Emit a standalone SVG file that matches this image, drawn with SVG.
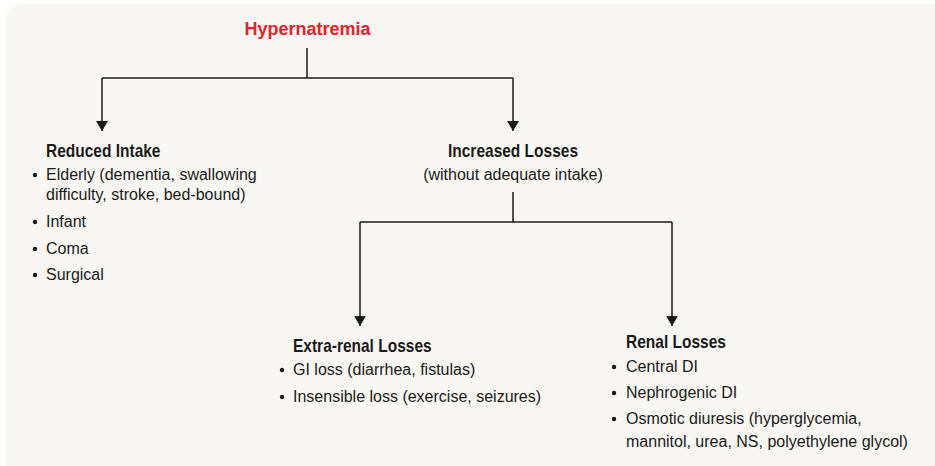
<svg xmlns="http://www.w3.org/2000/svg" width="935" height="466" viewBox="0 0 935 466">
  <style>
    text { font-family: "Liberation Sans", Arial, sans-serif; fill: #1a1a1a; font-size: 16px; }
    .title { font-weight: bold; font-size: 18px; fill: #e8212b; }
    .head { font-weight: bold; font-size: 17.5px; }
    .ctr { text-anchor: middle; }
    .wire { fill: none; stroke: #1a1a1a; stroke-width: 1.5; }
    .dot { fill: #1a1a1a; }
  </style>
  <defs>
    <marker id="arrow" viewBox="0 0 10 12" refX="10" refY="6" markerWidth="10" markerHeight="12" markerUnits="userSpaceOnUse" orient="auto">
      <path d="M0,0 L10,6 L0,12 Z" fill="#1a1a1a"/>
    </marker>
  </defs>

  <!-- panel -->
  <rect x="6" y="4" width="945" height="480" rx="16" fill="#f8f7f3"/>

  <!-- connectors -->
  <g id="connectors">
    <path class="wire" d="M307,48 V78"/>
    <path class="wire" d="M102,78 H513"/>
    <path class="wire" d="M102,78 V131" marker-end="url(#arrow)"/>
    <path class="wire" d="M513,78 V131" marker-end="url(#arrow)"/>
    <path class="wire" d="M513,192 V222"/>
    <path class="wire" d="M360,222 H672"/>
    <path class="wire" d="M360,222 V326" marker-end="url(#arrow)"/>
    <path class="wire" d="M672,222 V326" marker-end="url(#arrow)"/>
  </g>

  <g id="hypernatremia">
    <text class="title ctr" x="307.5" y="35">Hypernatremia</text>
  </g>

  <!-- headings use a narrowed bold face -->
  <g id="reduced-intake">
    <text class="head" transform="translate(46,157) scale(0.886,1)">Reduced Intake</text>
    <circle class="dot" cx="35" cy="175" r="2.2"/>
    <text x="46" y="180">Elderly (dementia, swallowing</text>
    <text x="46" y="200">difficulty, stroke, bed-bound)</text>
    <circle class="dot" cx="35" cy="222" r="2.2"/>
    <text x="46" y="227">Infant</text>
    <circle class="dot" cx="35" cy="249" r="2.2"/>
    <text x="46" y="254">Coma</text>
    <circle class="dot" cx="35" cy="275" r="2.2"/>
    <text x="46" y="280">Surgical</text>
  </g>

  <g id="increased-losses">
    <text class="head ctr" transform="translate(513,157) scale(0.886,1)">Increased Losses</text>
    <text class="ctr" x="513" y="180">(without adequate intake)</text>
  </g>

  <g id="extra-renal-losses">
    <text class="head" transform="translate(293,352) scale(0.886,1)">Extra-renal Losses</text>
    <circle class="dot" cx="282" cy="370" r="2.2"/>
    <text x="293" y="375">GI loss (diarrhea, fistulas)</text>
    <circle class="dot" cx="282" cy="397" r="2.2"/>
    <text x="293" y="402">Insensible loss (exercise, seizures)</text>
  </g>

  <g id="renal-losses">
    <text class="head" transform="translate(626,348) scale(0.886,1)">Renal Losses</text>
    <circle class="dot" cx="614" cy="367" r="2.2"/>
    <text x="626" y="372">Central DI</text>
    <circle class="dot" cx="614" cy="393" r="2.2"/>
    <text x="626" y="398">Nephrogenic DI</text>
    <circle class="dot" cx="614" cy="419" r="2.2"/>
    <text x="626" y="424">Osmotic diuresis (hyperglycemia,</text>
    <text x="626" y="447">mannitol, urea, NS, polyethylene glycol)</text>
  </g>
</svg>
